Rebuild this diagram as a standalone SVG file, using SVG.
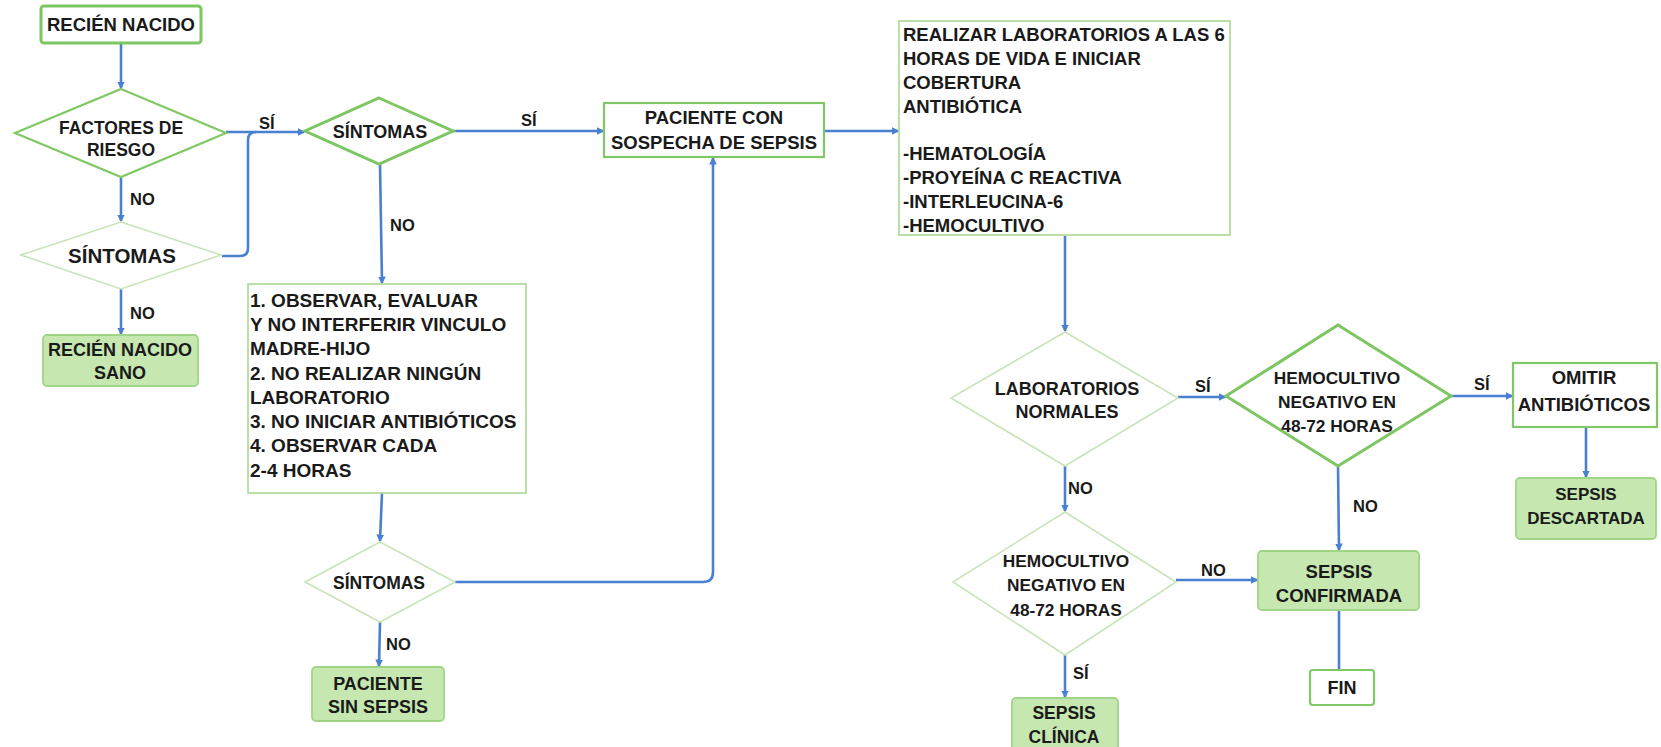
<svg xmlns="http://www.w3.org/2000/svg" width="1661" height="747" viewBox="0 0 1661 747">
<defs>
<style>
text{font-family:"Liberation Sans",Arial,sans-serif;font-weight:bold;fill:#1a1a1a}
.c{text-anchor:middle}
.lbl{font-size:16.5px}
.thick{fill:#fff;stroke:#7dc662;stroke-width:3}
.med{fill:#fff;stroke:#80c865;stroke-width:2.2}
.thin{fill:#fff;stroke:#a9d993;stroke-width:1.6}
.light{fill:#fff;stroke:#c9e4b8;stroke-width:1.6}
.fill{fill:#c6e8b0;stroke:#9fd586;stroke-width:1.8}
.edge{fill:none;stroke:#4a80d2;stroke-width:2.6}
.arr{marker-end:url(#ah)}
</style>
<marker id="ah" viewBox="0 0 6 6" refX="5" refY="3" markerWidth="3" markerHeight="3" orient="auto" markerUnits="strokeWidth">
<path d="M0,0 L6,3 L0,6 z" fill="#4a80d2"/>
</marker>
</defs>

<g id="connectors">
<path class="edge arr" d="M121,43 V88"/>
<path class="edge arr" d="M226,132 H304"/>
<path class="edge" d="M222,256 H240 Q248,256 248,248 V140 Q248,132 256,132"/>
<path class="edge arr" d="M121,177 V221"/>
<path class="edge arr" d="M121,289 V334"/>
<path class="edge arr" d="M453,131 H603"/>
<path class="edge arr" d="M380,164 L382,283"/>
<path class="edge arr" d="M382,493 L380,541"/>
<path class="edge arr" d="M455,582 H703 Q713,582 713,572 V158"/>
<path class="edge arr" d="M380,622 L379,666"/>
<path class="edge arr" d="M824,131 H898"/>
<path class="edge arr" d="M1065,236 V331"/>
<path class="edge arr" d="M1178,397 H1225"/>
<path class="edge arr" d="M1451,396 H1512"/>
<path class="edge arr" d="M1586,428 V477"/>
<path class="edge arr" d="M1338,466 L1339,550"/>
<path class="edge arr" d="M1065,466 V511"/>
<path class="edge arr" d="M1176,580 H1257"/>
<path class="edge" d="M1339,611 V670"/>
<path class="edge arr" d="M1065,655 V697"/>
<text class="lbl" x="259" y="129">SÍ</text>
<text class="lbl" x="130" y="205">NO</text>
<text class="lbl" x="130" y="319">NO</text>
<text class="lbl" x="521" y="126">SÍ</text>
<text class="lbl" x="390" y="231">NO</text>
<text class="lbl" x="386" y="650">NO</text>
<text class="lbl" x="1195" y="392">SÍ</text>
<text class="lbl" x="1474" y="390">SÍ</text>
<text class="lbl" x="1068" y="494">NO</text>
<text class="lbl" x="1353" y="512">NO</text>
<text class="lbl" x="1201" y="576">NO</text>
<text class="lbl" x="1073" y="679">SÍ</text>
</g>

<g id="recien-nacido">
<rect class="thick" x="41" y="6" width="160" height="37" rx="3"/>
<text class="c" x="121" y="31" font-size="18.5">RECIÉN NACIDO</text>
</g>

<g id="factores-riesgo">
<polygon class="med" points="121,89 226,133 121,177 15,133"/>
<text class="c" x="121" y="134" font-size="17.5">FACTORES DE</text>
<text class="c" x="121" y="156" font-size="17.5">RIESGO</text>
</g>

<g id="sintomas-1">
<polygon class="thick" points="379,98 453,131 379,164 305,131" stroke-width="2.5"/>
<text class="c" x="380" y="138" font-size="18">SÍNTOMAS</text>
</g>

<g id="sintomas-2">
<polygon class="light" points="121,222 221,255 121,289 21,255"/>
<text class="c" x="122" y="263" font-size="20.5">SÍNTOMAS</text>
</g>

<g id="recien-nacido-sano">
<rect class="fill" x="43" y="335" width="155" height="51" rx="4"/>
<text class="c" x="120" y="356" font-size="18">RECIÉN NACIDO</text>
<text class="c" x="120" y="379" font-size="18">SANO</text>
</g>

<g id="observar">
<rect class="thin" x="248" y="284" width="278" height="209"/>
<text x="250" y="307" font-size="19">1. OBSERVAR, EVALUAR</text>
<text x="250" y="331" font-size="19">Y NO INTERFERIR VINCULO</text>
<text x="250" y="355" font-size="19">MADRE-HIJO</text>
<text x="250" y="380" font-size="19">2. NO REALIZAR NINGÚN</text>
<text x="250" y="404" font-size="19">LABORATORIO</text>
<text x="250" y="428" font-size="19">3. NO INICIAR ANTIBIÓTICOS</text>
<text x="250" y="452" font-size="19">4. OBSERVAR CADA</text>
<text x="250" y="477" font-size="19">2-4 HORAS</text>
</g>

<g id="sintomas-3">
<polygon class="light" points="380,542 455,582 380,622 305,582"/>
<text class="c" x="379" y="589" font-size="17.5">SÍNTOMAS</text>
</g>

<g id="paciente-sin-sepsis">
<rect class="fill" x="312" y="667" width="132" height="54" rx="4"/>
<text class="c" x="378" y="690" font-size="18">PACIENTE</text>
<text class="c" x="378" y="713" font-size="18">SIN SEPSIS</text>
</g>

<g id="paciente-sospecha">
<rect class="med" x="604" y="103" width="220" height="54" stroke-width="2.5"/>
<text class="c" x="714" y="124" font-size="18.5">PACIENTE CON</text>
<text class="c" x="714" y="149" font-size="18.5">SOSPECHA DE SEPSIS</text>
</g>

<g id="laboratorios">
<rect class="thin" x="899" y="21" width="331" height="214"/>
<text x="903" y="41" font-size="18.5">REALIZAR LABORATORIOS A LAS 6</text>
<text x="903" y="65" font-size="18.5">HORAS DE VIDA E INICIAR</text>
<text x="903" y="89" font-size="18.5">COBERTURA</text>
<text x="903" y="113" font-size="18.5">ANTIBIÓTICA</text>
<text x="903" y="160" font-size="18.5">-HEMATOLOGÍA</text>
<text x="903" y="184" font-size="18.5">-PROYEÍNA C REACTIVA</text>
<text x="903" y="208" font-size="18.5">-INTERLEUCINA-6</text>
<text x="903" y="232" font-size="18.5">-HEMOCULTIVO</text>
</g>

<g id="laboratorios-normales">
<polygon class="light" points="1065,332 1178,398 1065,466 951,398"/>
<text class="c" x="1067" y="395" font-size="18">LABORATORIOS</text>
<text class="c" x="1067" y="418" font-size="18">NORMALES</text>
</g>

<g id="hemocultivo-1">
<polygon class="thick" points="1338,325 1451,396 1338,466 1226,396" stroke-width="2.5"/>
<text class="c" x="1337" y="384" font-size="17.3">HEMOCULTIVO</text>
<text class="c" x="1337" y="408" font-size="17.3">NEGATIVO EN</text>
<text class="c" x="1337" y="432" font-size="17.3">48-72 HORAS</text>
</g>

<g id="omitir">
<rect class="med" x="1513" y="363" width="144" height="64"/>
<text class="c" x="1584" y="384" font-size="18.5">OMITIR</text>
<text class="c" x="1584" y="411" font-size="18.5">ANTIBIÓTICOS</text>
</g>

<g id="sepsis-descartada">
<rect class="fill" x="1516" y="478" width="140" height="61" rx="4" stroke-width="2.5" stroke="#92cf74"/>
<text class="c" x="1586" y="500" font-size="17">SEPSIS</text>
<text class="c" x="1586" y="524" font-size="17">DESCARTADA</text>
</g>

<g id="hemocultivo-2">
<polygon class="light" points="1065,512 1176,582 1065,655 953,582"/>
<text class="c" x="1066" y="567" font-size="17.3">HEMOCULTIVO</text>
<text class="c" x="1066" y="591" font-size="17.3">NEGATIVO EN</text>
<text class="c" x="1066" y="616" font-size="17.3">48-72 HORAS</text>
</g>

<g id="sepsis-confirmada">
<rect class="fill" x="1258" y="551" width="161" height="59" rx="4" stroke-width="2.5" stroke="#92cf74"/>
<text class="c" x="1339" y="578" font-size="18.5">SEPSIS</text>
<text class="c" x="1339" y="602" font-size="18.5">CONFIRMADA</text>
</g>

<g id="fin">
<rect class="med" x="1310" y="670" width="64" height="35" rx="3"/>
<text class="c" x="1342" y="694" font-size="18">FIN</text>
</g>

<g id="sepsis-clinica">
<rect class="fill" x="1012" y="698" width="106" height="60" rx="4"/>
<text class="c" x="1064" y="719" font-size="17.5">SEPSIS</text>
<text class="c" x="1064" y="743" font-size="17.5">CLÍNICA</text>
</g>
</svg>
